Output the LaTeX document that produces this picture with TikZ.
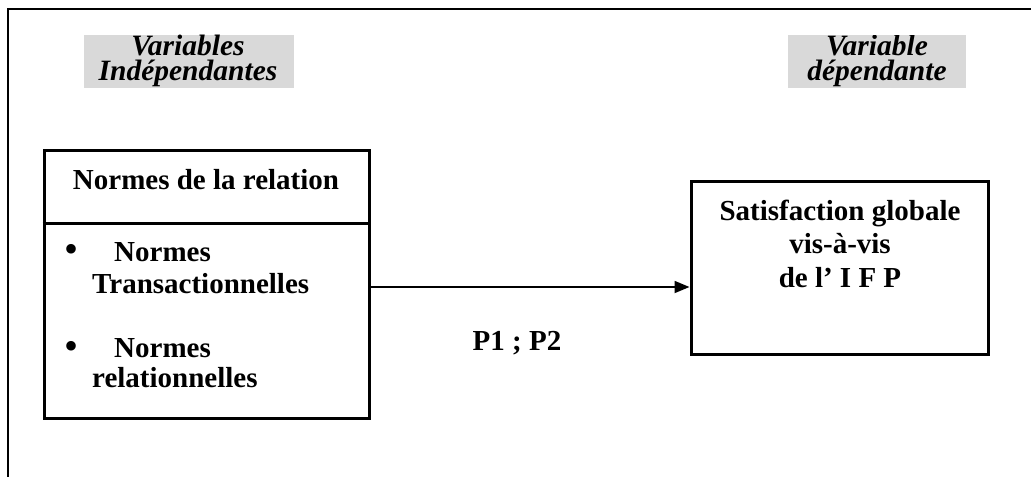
\documentclass[tikz,border=0pt]{standalone}
\usepackage{fontspec}
\setmainfont{Liberation Serif}
\usetikzlibrary{arrows.meta}
\begin{document}
\begin{tikzpicture}[x=1pt,y=-1pt,
  boxtxt/.style={font=\fontsize{29}{32}\selectfont\bfseries, inner sep=0pt, anchor=base},
  lbl/.style={font=\fontsize{29.5}{25}\selectfont\bfseries\itshape, inner sep=0pt, anchor=base, align=center},
  frame/.style={draw=black, line width=3pt},
  graybg/.style={fill=black!15, draw=none}]
\useasboundingbox (0,0) rectangle (1031,477);
% outer frame
\draw[line width=2pt] (1031,9) -- (8,9) -- (8,477);
% labels
\fill[graybg] (84,35) rectangle (294,88);
\node[lbl] (lv) at (188,80) {Variables\\Indépendantes};
\fill[graybg] (788,35) rectangle (966,88);
\begin{scope}
\clip (788,35) rectangle (966,88);
\node[lbl] (rv) at (877,80) {Variable\\dépendante};
\end{scope}
% left box
\node[frame, minimum width=325pt, minimum height=268pt, inner sep=0pt] (lbox) at (206.5,284) {};
\draw[line width=3pt] (lbox.west |- 0,223) -- (lbox.east |- 0,223);
\node[boxtxt] (ltitle) at (206,189) {Normes de la relation};
\node[boxtxt, font=\fontsize{40}{40}\selectfont] (b1) at (72,262) {\textbullet};
\node[boxtxt, anchor=base west, align=left] (i1) at (92,293) {\hspace{22pt}Normes\\Transactionnelles};
\node[boxtxt, font=\fontsize{40}{40}\selectfont] (b2) at (72,359) {\textbullet};
\node[boxtxt, anchor=base west, align=left, font=\fontsize{29}{30}\selectfont\bfseries] (i2) at (92,387) {\hspace{22pt}Normes\\relationnelles};
% right box
\node[frame, minimum width=297pt, minimum height=173pt, inner sep=0pt] (rbox) at (839.5,267.5) {};
\node[boxtxt, align=center, font=\fontsize{29}{33.5}\selectfont\bfseries] (rtxt) at (840,287) {Satisfaction globale\\vis-à-vis\\de l’ I F P};
% connector
\draw[line width=1.8pt, -{Triangle[length=15pt,width=12pt]}] (lbox.east |- 0,287) -- (rbox.west |- 0,287);
\node[boxtxt] (p) at (517,350) {P1 ; P2};
\end{tikzpicture}
\end{document}
